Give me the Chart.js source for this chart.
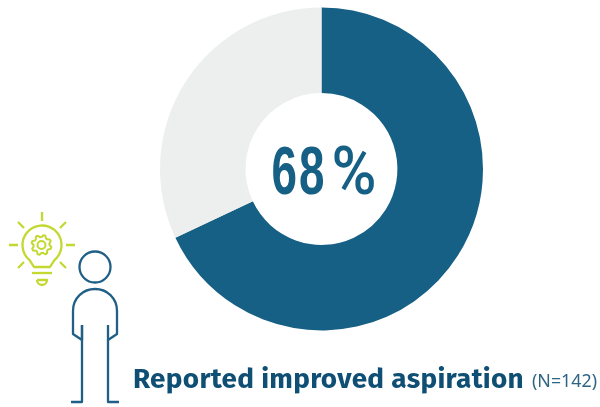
<!DOCTYPE html>
<html>
<head>
<meta charset="utf-8">
<script src="https://cdn.jsdelivr.net/npm/chart.js@4"></script>
<style>
html,body{margin:0;padding:0;background:#fff;overflow:hidden}
#wrap{position:relative;width:600px;height:407px}
canvas{display:block}
</style>
</head>
<body>
<div id="wrap"><canvas id="c" width="600" height="407"></canvas></div>
<script>
const categories = ['Reported improved aspiration', 'Other'];
const values = [68, 32];
const sampleLabel = '(N=142)';
const segmentColors = ['#176085', '#edefef'];
const BLUE = '#176085', NAVY = '#0f4f74', LIME = '#c3d830';

// Centre figure, caption and the person-with-lightbulb pictogram
const annotations = {
  id: 'annotations',
  afterDraw(chart) {
    const { ctx } = chart;
    const arc = chart.getDatasetMeta(0).data[0];
    ctx.save();

    // Centre percentage: condensed digits with a lighter, detached percent sign
    ctx.fillStyle = BLUE;
    ctx.textBaseline = 'alphabetic';
    ctx.textAlign = 'left';
    ctx.font = 'bold 68px "Liberation Sans Narrow", "Liberation Sans"';
    ctx.letterSpacing = '3px';
    ctx.fillText(String(values[0]), arc.x - 50, 194, 55);
    ctx.letterSpacing = '0px';
    ctx.font = '500 66px Roboto, "Liberation Sans"';
    ctx.fillText('%', arc.x + 10, 194, 45);

    // Caption
    ctx.fillStyle = NAVY;
    ctx.font = 'bold 28px "Fira Sans", "Noto Sans", sans-serif';
    ctx.letterSpacing = '0.3px';
    ctx.fillText(categories[0], 133, 388, 391);
    ctx.letterSpacing = '0px';
    ctx.font = '18px "Noto Sans", sans-serif';
    ctx.fillStyle = '#2f6584';
    ctx.fillText(sampleLabel, 532, 387, 65);

    ctx.lineCap = 'butt';
    ctx.lineJoin = 'round';

    // Person
    ctx.strokeStyle = '#205f86';
    ctx.lineWidth = 2.3;
    ctx.beginPath();
    ctx.arc(95, 267, 15.5, 0, Math.PI * 2);
    ctx.stroke();
    ctx.beginPath();
    ctx.moveTo(82, 325);
    ctx.lineTo(82, 340);
    ctx.lineTo(73, 334);
    ctx.lineTo(73, 311);
    ctx.bezierCurveTo(73, 298, 83, 289, 95, 289);
    ctx.bezierCurveTo(107, 289, 117, 298, 117, 311);
    ctx.lineTo(117, 334);
    ctx.lineTo(108, 340);
    ctx.stroke();
    ctx.beginPath();
    ctx.moveTo(71, 402); ctx.lineTo(82, 402); ctx.lineTo(82, 325);
    ctx.moveTo(119, 402); ctx.lineTo(108, 402); ctx.lineTo(108, 325);
    ctx.stroke();

    // Lightbulb
    ctx.strokeStyle = LIME;
    ctx.lineWidth = 2.3;
    ctx.beginPath();
    ctx.arc(42, 245, 19.5, Math.PI * 0.72, Math.PI * 0.28);
    ctx.lineTo(50, 267);
    ctx.lineTo(34, 267);
    ctx.closePath();
    ctx.stroke();
    ctx.beginPath();
    ctx.moveTo(32, 273); ctx.lineTo(52, 273);
    ctx.stroke();
    ctx.beginPath();
    ctx.moveTo(37, 280); ctx.lineTo(47, 280);
    ctx.arc(42, 280, 5, 0, Math.PI);
    ctx.stroke();
    const rays = [[42, 212, 42, 221], [18, 222, 24, 228], [66, 222, 60, 228],
                  [9, 245, 18, 245], [66, 245, 75, 245],
                  [18, 268, 24, 262], [66, 268, 60, 262]];
    ctx.beginPath();
    rays.forEach(r => { ctx.moveTo(r[0], r[1]); ctx.lineTo(r[2], r[3]); });
    ctx.stroke();

    // Gear inside the bulb
    ctx.lineWidth = 2;
    ctx.beginPath();
    ctx.arc(41.5, 245, 4, 0, Math.PI * 2);
    ctx.stroke();
    ctx.beginPath();
    const teeth = 8;
    for (let i = 0; i < teeth * 4; i++) {
      const a = (i / (teeth * 4)) * Math.PI * 2 + 0.2;
      const rad = (i % 4 < 2) ? 10 : 8;
      const x = 41.5 + Math.cos(a) * rad, y = 245 + Math.sin(a) * rad;
      i ? ctx.lineTo(x, y) : ctx.moveTo(x, y);
    }
    ctx.closePath();
    ctx.stroke();
    ctx.restore();
  }
};

new Chart(document.getElementById('c'), {
  type: 'doughnut',
  data: {
    labels: categories,
    datasets: [{
      data: values,
      backgroundColor: segmentColors,
      borderWidth: 0,
      hoverOffset: 0
    }]
  },
  options: {
    responsive: false,
    animation: false,
    cutout: '47%',
    rotation: 0,
    layout: { padding: { left: 160, right: 117, top: 7, bottom: 76 } },
    plugins: { legend: { display: false }, tooltip: { enabled: false } }
  },
  plugins: [annotations]
});
</script>
</body>
</html>
